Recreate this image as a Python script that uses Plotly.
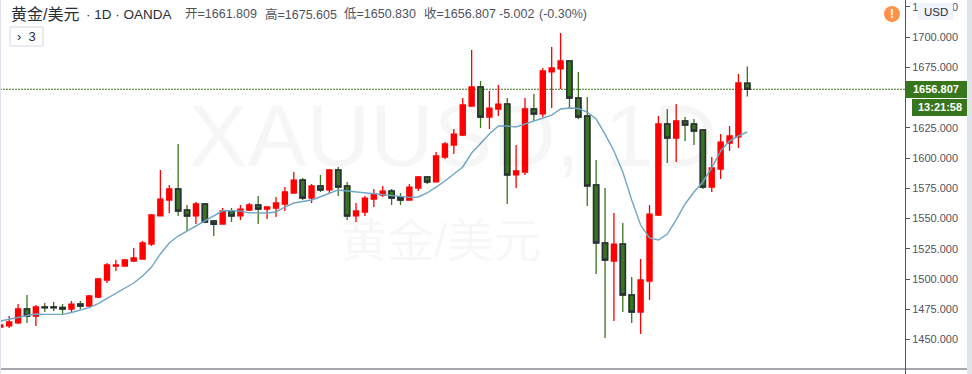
import plotly.graph_objects as go

opens = [1460.3,1461.2,1463.7,1475.2,1469.4,1476.9,1476.9,1476.5,1475.2,1479.3,1477.7,1485.1,1499.2,1510.7,1510.7,1514.9,1516.5,1528.9,1552.1,1565.3,
         1574.4,1557.0,1552.1,1562.0,1547.9,1545.4,1556.2,1552.1,1557.0,1561.2,1557.8,1558.7,1562.0,1571.1,1581.8,1566.9,1576.9,1573.6,1590.1,1576.9,
         1552.1,1555.4,1566.1,1569.4,1572.7,1567.8,1565.3,1575.2,1584.3,1580.2,1600.8,1610.7,1619.0,1643.0,1658.7,1633.9,1640.5,1644.6,1586.0,1588.4,
         1640.5,1636.4,1671.1,1673.6,1680.2,1649.6,1634.7,1577.7,1529.8,1514.9,1528.9,1486.8,1472.7,1498.3,1552.9,1628.1,1616.5,1630.6,1628.1,1623.1,
         1576.0,1590.9,1612.4,1617.4,1661.8]
highs = [1462.0,1469.4,1479.3,1486.8,1478.5,1480.2,1481.0,1479.3,1481.8,1481.8,1486.8,1500.8,1513.2,1515.7,1516.5,1525.6,1531.4,1553.7,1590.1,1577.7,
         1611.6,1561.2,1563.6,1562.0,1548.8,1558.7,1558.7,1561.2,1562.8,1568.6,1559.5,1567.8,1576.0,1588.4,1583.5,1578.5,1586.0,1590.9,1592.6,1580.2,
         1562.8,1568.6,1574.4,1576.9,1574.4,1571.1,1578.5,1585.1,1584.3,1605.0,1613.2,1624.0,1649.6,1689.3,1663.6,1655.4,1660.3,1649.6,1610.7,1649.6,
         1652.9,1674.4,1691.7,1703.3,1680.2,1671.1,1650.4,1598.4,1575.2,1554.5,1546.3,1501.7,1516.5,1561.2,1634.7,1640.5,1644.6,1633.9,1632.2,1624.0,
         1600.8,1619.8,1626.4,1669.4,1675.6]
lows = [1460.3,1459.5,1462.8,1463.7,1461.2,1472.7,1473.5,1470.2,1472.7,1475.2,1476.9,1484.3,1496.7,1506.6,1510.7,1514.1,1516.5,1527.3,1552.1,1554.5,
        1552.1,1539.7,1545.4,1546.3,1535.5,1545.4,1547.1,1548.8,1556.2,1545.4,1549.6,1551.2,1556.2,1571.1,1565.3,1562.8,1571.9,1570.3,1568.6,1548.8,
        1547.1,1552.1,1559.5,1567.8,1561.2,1561.2,1565.3,1572.7,1578.5,1580.2,1599.2,1603.3,1618.2,1643.0,1624.8,1624.0,1634.7,1562.0,1575.2,1586.0,
        1630.6,1633.9,1641.3,1657.0,1640.5,1632.2,1560.3,1504.1,1451.2,1465.3,1472.7,1463.7,1454.6,1482.6,1552.1,1595.9,1596.7,1614.0,1610.7,1574.4,
        1571.9,1582.6,1605.8,1608.3,1650.8]
closes = [1462.0,1464.5,1475.2,1469.4,1476.9,1476.3,1476.3,1475.2,1479.3,1477.7,1486.0,1500.0,1511.6,1511.6,1515.7,1517.4,1529.8,1552.9,1566.1,1574.4,
          1556.2,1552.1,1562.0,1547.1,1545.4,1556.2,1552.1,1557.8,1561.2,1557.8,1559.5,1562.8,1571.9,1581.8,1566.9,1576.9,1573.6,1590.1,1576.0,1552.1,
          1556.2,1566.9,1570.3,1572.7,1566.9,1565.3,1576.0,1584.3,1580.2,1601.7,1611.6,1619.8,1643.8,1658.7,1633.9,1641.3,1644.6,1586.0,1589.3,1640.5,
          1636.4,1671.9,1674.4,1680.2,1649.6,1633.9,1576.9,1529.8,1515.7,1528.9,1486.8,1472.7,1499.2,1553.7,1628.1,1616.5,1630.6,1627.3,1622.3,1576.0,
          1591.8,1613.2,1618.2,1662.0,1656.8]
moving_avg = [1465.3,1466.5,1468.2,1469.8,1471.1,1470.8,1470.8,1470.8,1472.3,1474.4,1476.4,1479.7,1483.9,1488.0,1492.2,1496.7,1502.5,1509.9,1520.7,1529.8,
              1535.5,1539.7,1543.8,1548.4,1552.5,1556.4,1556.5,1556.2,1554.7,1554.3,1554.5,1555.4,1559.5,1562.8,1563.8,1565.3,1568.0,1571.1,1573.6,1572.7,
              1571.9,1571.3,1570.7,1569.8,1569.0,1568.2,1567.5,1567.8,1571.1,1576.0,1581.0,1586.8,1592.6,1604.1,1612.4,1619.8,1626.4,1626.4,1625.6,1628.1,
              1630.6,1633.1,1635.5,1640.5,1641.3,1640.9,1638.0,1632.2,1619.8,1605.8,1588.4,1565.3,1544.6,1533.9,1532.2,1537.2,1548.8,1562.0,1571.9,1580.2,
              1591.8,1605.8,1614.0,1618.2,1621.5]
last_price = 1656.807
tick_values = [1450,1475,1500,1525,1550,1575,1600,1625,1650,1675,1700,1725]
tick_labels = ["1450.000","1475.000","1500.000","1525.000","1550.000","1575.000","1600.000","1625.000","","1675.000","1700.000","1725.000"]
ohlc_groups = ["开=1661.809","高=1675.605","低=1650.830","收=1656.807","-5.002","(-0.30%)"]

W, H = 972, 374
AX = 905
GREEN = "#38761d"
RED = "#ff0000"
DARK = "#2a2e39"
CJK = "Liberation Sans, Noto Sans CJK SC, sans-serif"
SANS = "Liberation Sans, sans-serif"

idx = list(range(len(opens)))
down = [i for i in idx if closes[i] < opens[i]]

fig = go.Figure()
fig.add_trace(go.Candlestick(
    x=idx, open=opens, high=highs, low=lows, close=closes, whiskerwidth=0, showlegend=False,
    increasing=dict(line=dict(color=RED, width=1.3), fillcolor=RED),
    decreasing=dict(line=dict(color=GREEN, width=1.3), fillcolor=GREEN)))
# dark outlined bodies of the falling candles
fig.add_trace(go.Candlestick(
    x=[idx[i] for i in down], open=[opens[i] for i in down],
    high=[opens[i] for i in down], low=[closes[i] for i in down],
    close=[closes[i] for i in down], whiskerwidth=0, showlegend=False,
    increasing=dict(line=dict(color=DARK, width=1.6), fillcolor=GREEN),
    decreasing=dict(line=dict(color=DARK, width=1.6), fillcolor=GREEN)))
fig.add_trace(go.Scatter(x=idx, y=moving_avg, mode="lines", showlegend=False,
                         line=dict(color="#6ea6c6", width=1.4)))

def px_x(p): return p / W
def px_y(p): return 1 - p / H

def rect(x0, y0, x1, y1, color, **kw):
    return dict(type="rect", xref="paper", yref="paper", x0=px_x(x0), x1=px_x(x1),
                y0=px_y(y1), y1=px_y(y0), fillcolor=color, line=dict(width=0), **kw)

shapes = [
    dict(type="line", xref="paper", yref="y", x0=0, x1=AX / W, y0=last_price, y1=last_price,
         line=dict(color=GREEN, width=1, dash="2px,1px"), layer="below"),
    rect(0, 0, 1, H, "#e0e3eb"),
    rect(967, 0, W, H, "#e0e3eb"),
    rect(AX, 81, 967, 98, GREEN),
    rect(912, 99, 967, 116, GREEN),
    rect(918, 3, 953, 20, "#f0f3fa"),
    rect(1, 368.5, 967, 369.5, "#50535e"),
    dict(type="rect", xref="paper", yref="paper", x0=px_x(10), x1=px_x(43), y0=px_y(46), y1=px_y(27),
         fillcolor="white", line=dict(color="#d6d8e0", width=1)),
    dict(type="circle", xref="paper", yref="paper", x0=px_x(884), x1=px_x(900), y0=px_y(22), y1=px_y(6),
         fillcolor="#ff9248", line=dict(width=0)),
]

def label(x, y, text, size, color, anchor="left", font=SANS, bold=False):
    return dict(xref="paper", yref="paper", x=px_x(x), y=px_y(y), text=f"<b>{text}</b>" if bold else text,
                showarrow=False, xanchor=anchor, yanchor="middle", borderpad=0,
                font=dict(size=size, color=color, family=font))

ohlc_x = [184, 264, 343, 423, 498, 538]
annotations = [
    label(453, 135, "XAUUSD, 1D", 88, "rgba(19,23,34,0.04)", "center"),
    label(440, 240, "黄金/美元", 47, "rgba(19,23,34,0.05)", "center", CJK),
    label(10, 14, "黄金/美元", 16, "#2a2e39", font=CJK),
    label(85, 14, "· 1D · OANDA", 13.5, "#2a2e39"),
    label(26.5, 36.5, "›  3", 13, "#2a2e39", "center"),
    label(892, 14, "!", 12, "white", "center", bold=True),
    label(935.5, 11.5, "USD", 11.5, "#2a2e39", "center"),
    label(936, 89.5, "1656.807", 11, "white", "center", bold=True),
    label(939.5, 107.5, "13:21:58", 11, "white", "center", bold=True),
] + [label(x, 14, t, 12.5, "#50535e", font=CJK) for x, t in zip(ohlc_x, ohlc_groups)]

fig.update_layout(
    width=W, height=H, margin=dict(l=0, r=0, t=0, b=0),
    paper_bgcolor="white", plot_bgcolor="white", showlegend=False, boxgap=0.18,
    shapes=shapes, annotations=annotations,
    xaxis=dict(domain=[0, AX / W], range=[-0.034, 101.73], visible=False, rangeslider=dict(visible=False)),
    yaxis=dict(side="right", range=[1421.5, 1730.58], tickvals=tick_values, ticktext=tick_labels,
               ticks="outside", ticklen=4, tickcolor="#50535e", showgrid=False, zeroline=False,
               showline=True, linecolor="#50535e", linewidth=1,
               tickfont=dict(size=11, color="#50535e", family=SANS)),
)
fig.write_html("out.html", config=dict(displayModeBar=False),
               post_script="document.body.style.margin='0';document.documentElement.style.overflow='hidden';")
